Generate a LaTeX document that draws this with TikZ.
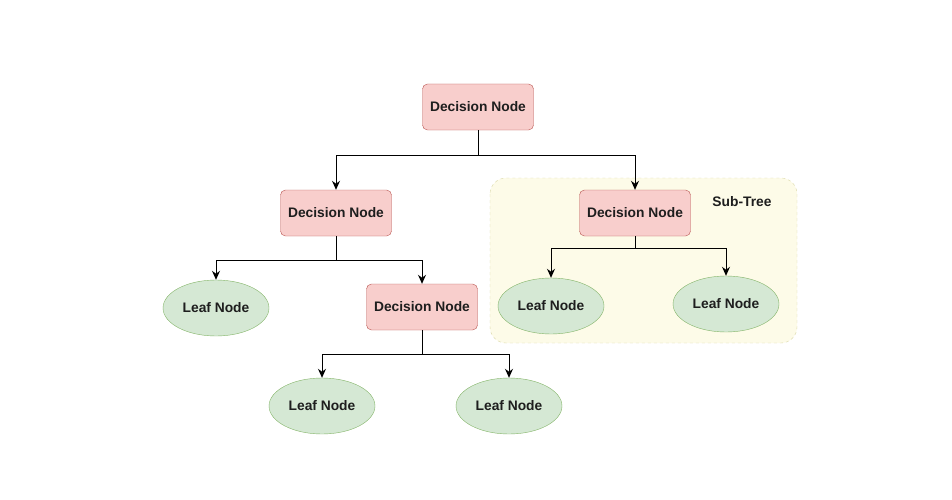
\documentclass[tikz,border=0pt]{standalone}
\usepackage{fontspec}
\setmainfont{Liberation Sans}
\usetikzlibrary{arrows.meta}
\usetikzlibrary{shapes.geometric}
\definecolor{decfill}{HTML}{F8CECC}
\definecolor{decline}{HTML}{B85450}
\definecolor{leaffill}{HTML}{D5E8D4}
\definecolor{leafline}{HTML}{82B366}
\definecolor{subfill}{HTML}{FDFBE8}
\definecolor{subline}{HTML}{D9D7A6}
\definecolor{txt}{HTML}{1E1E1E}
\begin{document}
\begin{tikzpicture}[x=1pt,y=-1pt,
	decnode/.style={draw=decline, fill=decfill, rounded corners=5pt, minimum width=111pt, minimum height=46pt, inner sep=0pt},
	leafnode/.style={ellipse, draw=leafline, fill=leaffill, minimum width=106pt, minimum height=56pt, inner sep=0pt},
	arr/.style={-{Stealth[length=9pt,width=8pt]}, line width=0.9pt, black},
	font=\fontsize{13.8}{16}\selectfont\bfseries\color{txt}]
	\useasboundingbox (0,0) rectangle (952,500);
	% sub-tree box
	\draw[subline, fill=subfill, dashed, rounded corners=16pt] (490,178) rectangle (797,343);
	\node (subtree) at (742,202){Sub-Tree};
	% decision nodes
	\node[decnode] (root) at (478,107){Decision Node};%0
	\node[decnode] (dleft) at (336,213){Decision Node};%1
	\node[decnode] (dsub) at (635,213){Decision Node};%2
	\node[decnode] (dmid) at (422,307){Decision Node};%3
	% leaf nodes
	\node[leafnode] (leafa) at (216,308){Leaf Node};%4
	\node[leafnode] (leafb) at (551,306){Leaf Node};%5
	\node[leafnode] (leafc) at (726,304){Leaf Node};%6
	\node[leafnode] (leafd) at (322,406){Leaf Node};%7
	\node[leafnode] (leafe) at (509,406){Leaf Node};%8
	% forks
	\coordinate (froot) at (478,155);
	\coordinate (fleft) at (336,260);
	\coordinate (fsub) at (635,248);
	\coordinate (fmid) at (422,354);
	\draw[line width=0.9pt] (root.south) -- (froot);
	\draw[arr] (froot) -| (dleft.north);
	\draw[arr] (froot) -| (dsub.north);
	\draw[line width=0.9pt] (dleft.south) -- (fleft);
	\draw[arr] (fleft) -| (leafa.north);
	\draw[arr] (fleft) -| (dmid.north);
	\draw[line width=0.9pt] (dsub.south) -- (fsub);
	\draw[arr] (fsub) -| (leafb.north);
	\draw[arr] (fsub) -| (leafc.north);
	\draw[line width=0.9pt] (dmid.south) -- (fmid);
	\draw[arr] (fmid) -| (leafd.north);
	\draw[arr] (fmid) -| (leafe.north);
\end{tikzpicture}
\end{document}
